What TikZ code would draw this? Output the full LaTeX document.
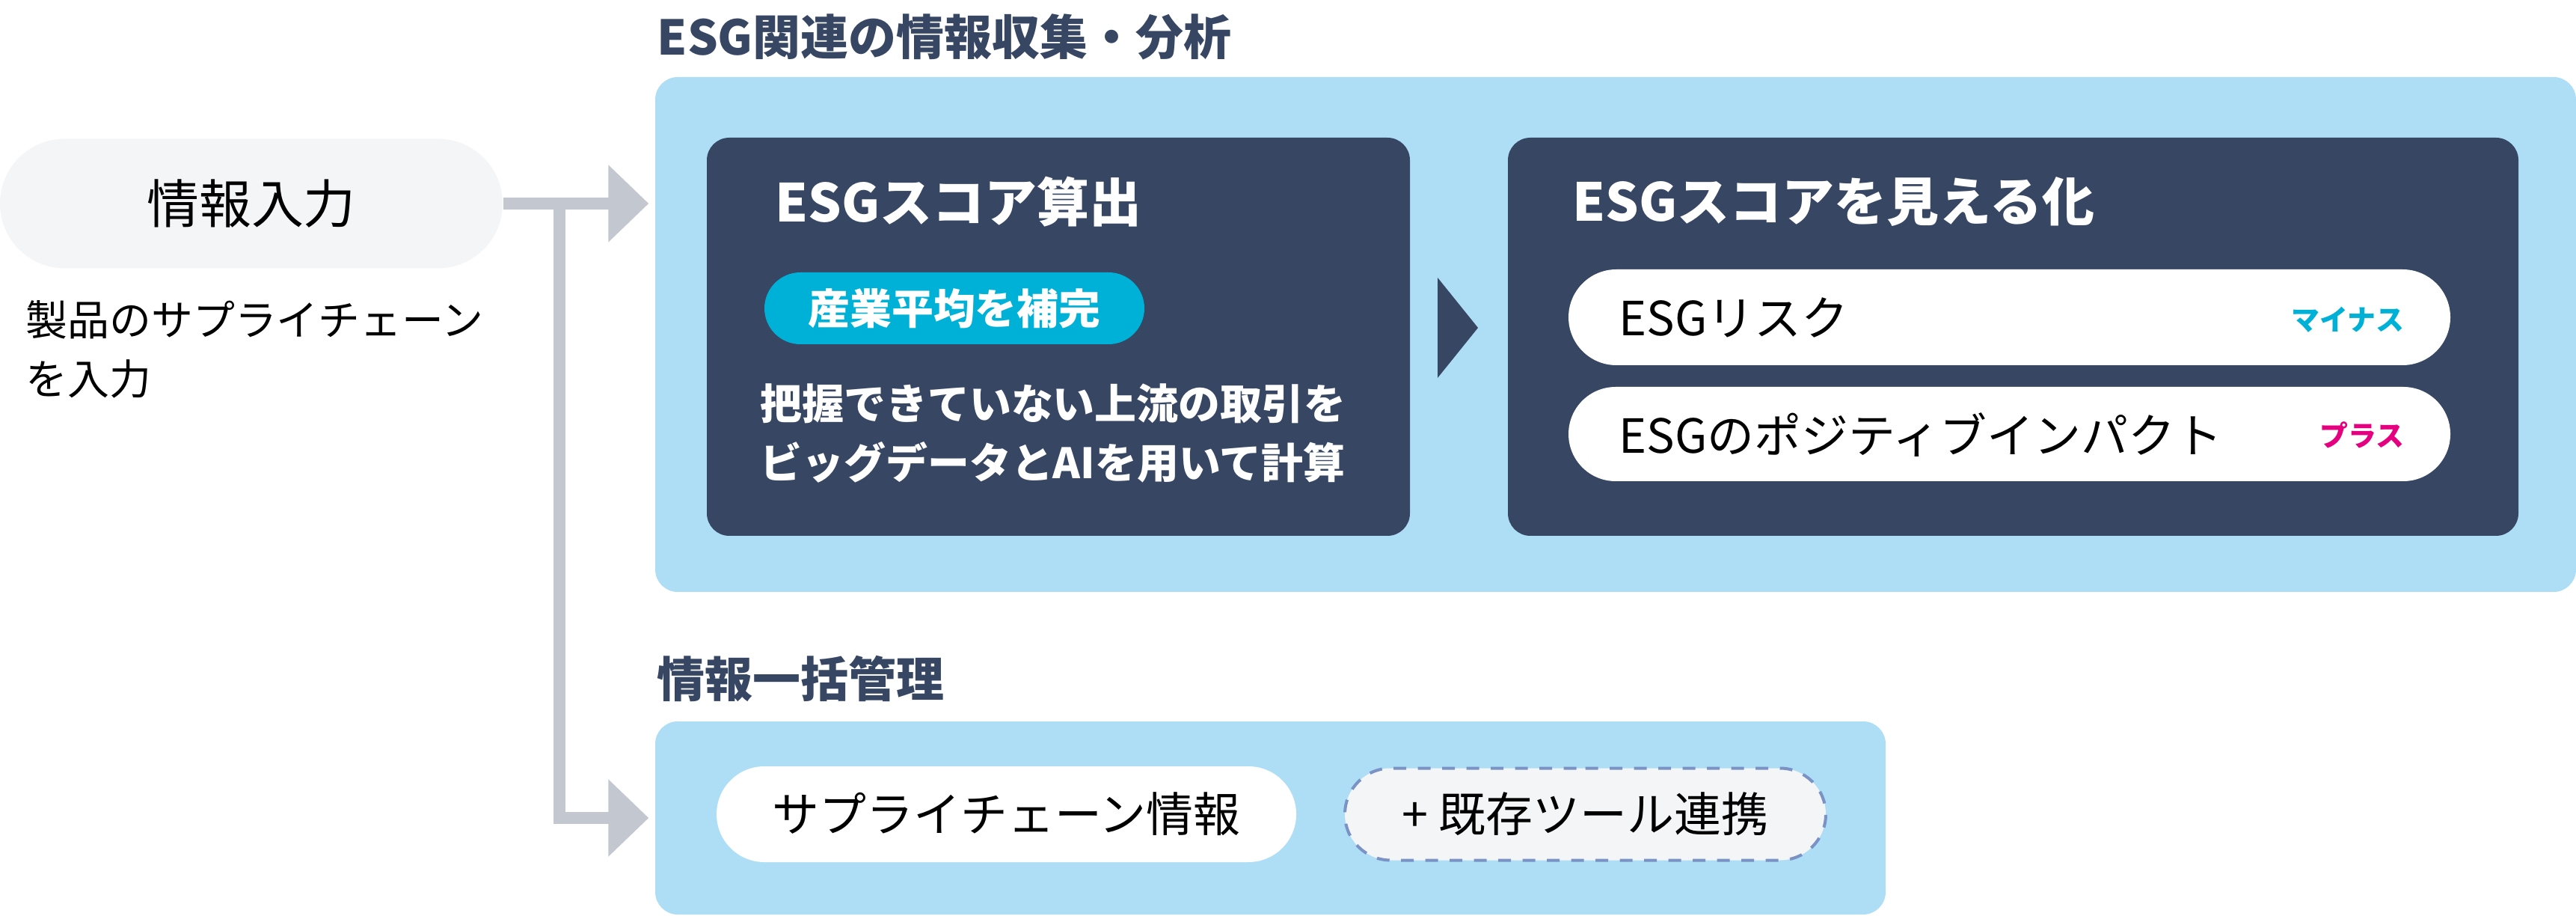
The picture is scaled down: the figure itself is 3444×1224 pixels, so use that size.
\documentclass[tikz,border=0pt]{standalone}
\usepackage{fontspec}
\setmainfont{Noto Sans CJK JP}
\usetikzlibrary{shapes.misc,arrows.meta}

\definecolor{navy}{HTML}{364663}
\definecolor{skyblue}{HTML}{ADDEF6}
\definecolor{pillgray}{HTML}{F4F5F7}
\definecolor{linkgray}{HTML}{C3C7D0}
\definecolor{cyantag}{HTML}{00B1D7}
\definecolor{pinktag}{HTML}{E4007F}
\definecolor{dashblue}{HTML}{7A93C4}

\newcommand{\sizeXL}{\fontsize{19.9pt}{24pt}\selectfont}
\newcommand{\sizeH}{\fontsize{18.2pt}{22pt}\selectfont}
\newcommand{\sizeM}{\fontsize{17.9pt}{22pt}\selectfont}
\newcommand{\sizeS}{\fontsize{15.9pt}{22.4pt}\selectfont}
\newcommand{\sizeXS}{\fontsize{10.8pt}{13pt}\selectfont}

\tikzset{
  panel/.style={fill=skyblue, rounded corners=3mm, inner sep=0pt},
  card/.style={fill=navy, rounded corners=3mm, inner sep=0pt},
  pill/.style={rounded rectangle, fill=white, inner sep=0pt, font=\sizeM},
  header/.style={font=\sizeH\bfseries, text=navy, inner sep=0pt},
  cardtitle/.style={font=\sizeXL\bfseries, text=white, inner sep=0pt},
  cardtext/.style={font=\sizeS\bfseries, text=white, align=left, inner sep=0pt},
  tag/.style={rounded rectangle, fill=cyantag, text=white, font=\sizeS\bfseries, inner sep=0pt},
  tagtext/.style={font=\sizeXS\bfseries, inner sep=0pt},
  pilltext/.style={font=\sizeM, inner sep=0pt},
  note/.style={font=\sizeS, align=left, inner sep=0pt},
  link/.style={draw=linkgray, line width=1.6mm, -{Triangle[length=5.4mm,width=10mm]}, shorten >=0.8mm}
}

\begin{document}
\begin{tikzpicture}[x=0.1mm, y=-0.1mm]
    \useasboundingbox (0,0) rectangle (3444,1224);

    % Entrada
    \node[pill, fill=pillgray, minimum width=67.2mm, minimum height=17.3mm, font=\sizeXL] (input) at (336,272) {情報入力};
    \node[note, anchor=west] (inputnote) at (34,467) {製品のサプライチェーン\\を入力};

    % Recopilación y análisis ESG
    \node[header, anchor=west] (analysistitle) at (878,49) {ESG関連の情報収集・分析};
    \node[panel, minimum width=256.8mm, minimum height=68.8mm] (analysis) at (2160,447) {};

    \node[card, minimum width=94mm, minimum height=53.2mm] (calc) at (1415,450) {};
    \node[cardtitle, anchor=west] (calctitle) at (1036,270) {ESGスコア算出};
    \node[tag, minimum width=50.8mm, minimum height=9.6mm] (industry) at (1276,412) {産業平均を補完};
    \node[cardtext, anchor=west] (calcnote) at (1016,579) {把握できていない上流の取引を\\ビッグデータとAIを用いて計算};

    \fill[navy] (1922,371) -- (1976,438) -- (1922,505) -- cycle;

    \node[card, minimum width=135.1mm, minimum height=53.2mm] (viz) at (2691.5,450) {};
    \node[cardtitle, anchor=west] (viztitle) at (2102,270) {ESGスコアを見える化};
    \node[pill, minimum width=117.9mm, minimum height=12.8mm] (risk) at (2686.5,424) {};
    \node[pilltext, anchor=west] (risktext) at (2164,425) {ESGリスク};
    \node[tagtext, text=cyantag, anchor=east] (minus) at (3215,427) {マイナス};
    \node[pill, minimum width=117.9mm, minimum height=12.6mm] (impact) at (2686.5,580) {};
    \node[pilltext, anchor=west] (impacttext) at (2164,581) {ESGのポジティブインパクト};
    \node[tagtext, text=pinktag, anchor=east] (plus) at (3215,581) {プラス};

    % Gestión de la información
    \node[header, anchor=west] (managetitle) at (878,907) {情報一括管理};
    \node[panel, minimum width=164.5mm, minimum height=25.8mm] (manage) at (1698.5,1093) {};
    \node[pill, minimum width=77.5mm, minimum height=12.8mm] (chain) at (1345.5,1088) {サプライチェーン情報};
    \node[pill, fill=pillgray, draw=dashblue, line width=0.4mm, dash pattern=on 1.7mm off 1.55mm,
          minimum width=64.3mm, minimum height=12.3mm] (tools) at (2119.5,1088) {+ 既存ツール連携};

    % Conectores
    \coordinate (split) at (748,272);
    \draw[link] (input.east) -- (analysis.west |- input.east);
    \draw[link] (split) |- (manage.west);
\end{tikzpicture}
\end{document}
